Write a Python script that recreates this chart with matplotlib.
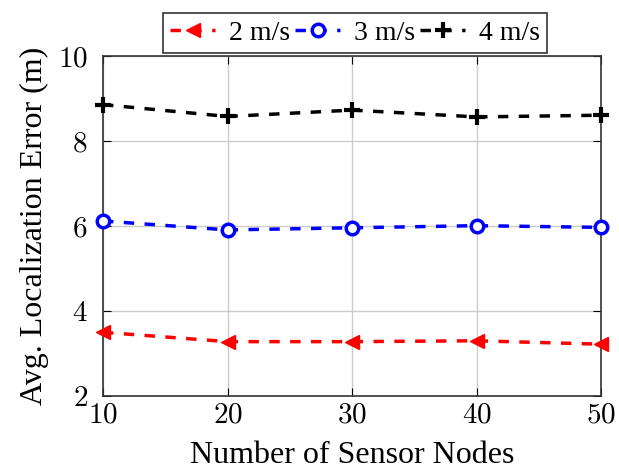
import matplotlib
matplotlib.use('Agg')
import matplotlib.pyplot as plt

# data
nodes = [10, 20, 30, 40, 50]
err_2 = [3.50, 3.28, 3.28, 3.30, 3.22]
err_3 = [6.12, 5.91, 5.96, 6.01, 5.97]
err_4 = [8.86, 8.58, 8.73, 8.57, 8.61]
labels = ['2 m/s', '3 m/s', '4 m/s']

plt.rcParams['font.family'] = ['Liberation Serif', 'DejaVu Serif']
plt.rcParams['mathtext.fontset'] = 'cm'

fig = plt.figure(figsize=(6.19, 4.72), dpi=100)
ax = fig.add_axes([0.1664, 0.161, 0.8046, 0.72])

ax.plot(nodes, err_2, '--', color='red', lw=2.5, dashes=(3, 3), marker='<', ms=10,
        mfc='red', mec='red', label=labels[0], clip_on=False, zorder=3)
ax.plot(nodes, err_3, '--', color='blue', lw=2.5, dashes=(3, 3), marker='o', ms=9,
        mfc='white', mec='blue', mew=2.5, label=labels[1], clip_on=False, zorder=3)
ax.plot(nodes, err_4, '--', color='black', lw=2.5, dashes=(3, 3), marker='+', ms=11,
        mew=3, label=labels[2], clip_on=False, zorder=3)

ax.set_xlim(10, 50)
ax.set_ylim(2, 10)
ax.set_xticks([10, 20, 30, 40, 50])
ax.set_yticks([2, 4, 6, 8, 10])
ax.set_xticklabels(['$%d$' % v for v in [10, 20, 30, 40, 50]])
ax.set_yticklabels(['$%d$' % v for v in [2, 4, 6, 8, 10]])
ax.tick_params(direction='in', length=6, labelsize=21, top=True, right=True)
ax.tick_params(axis='x', pad=5)
ax.tick_params(axis='y', pad=11)
ax.grid(True, color='#cccccc', lw=1)
ax.set_axisbelow(True)
for s in ax.spines.values():
    s.set_linewidth(1.2)
    s.set_color('#333333')

ax.set_xlabel('Number of Sensor Nodes', fontsize=23, labelpad=9)
ax.set_ylabel('Avg. Localization Error (m)', fontsize=23, labelpad=6)

leg = ax.legend(loc='lower center', bbox_to_anchor=(0.506, 1.01), ncol=3,
                fontsize=20, frameon=True, fancybox=False, edgecolor='black',
                handlelength=1.6, handletextpad=0.5, columnspacing=0.2,
                borderpad=0.25, borderaxespad=0.0)
leg.get_frame().set_linewidth(1.2)

plt.savefig('out.png', dpi=100)
